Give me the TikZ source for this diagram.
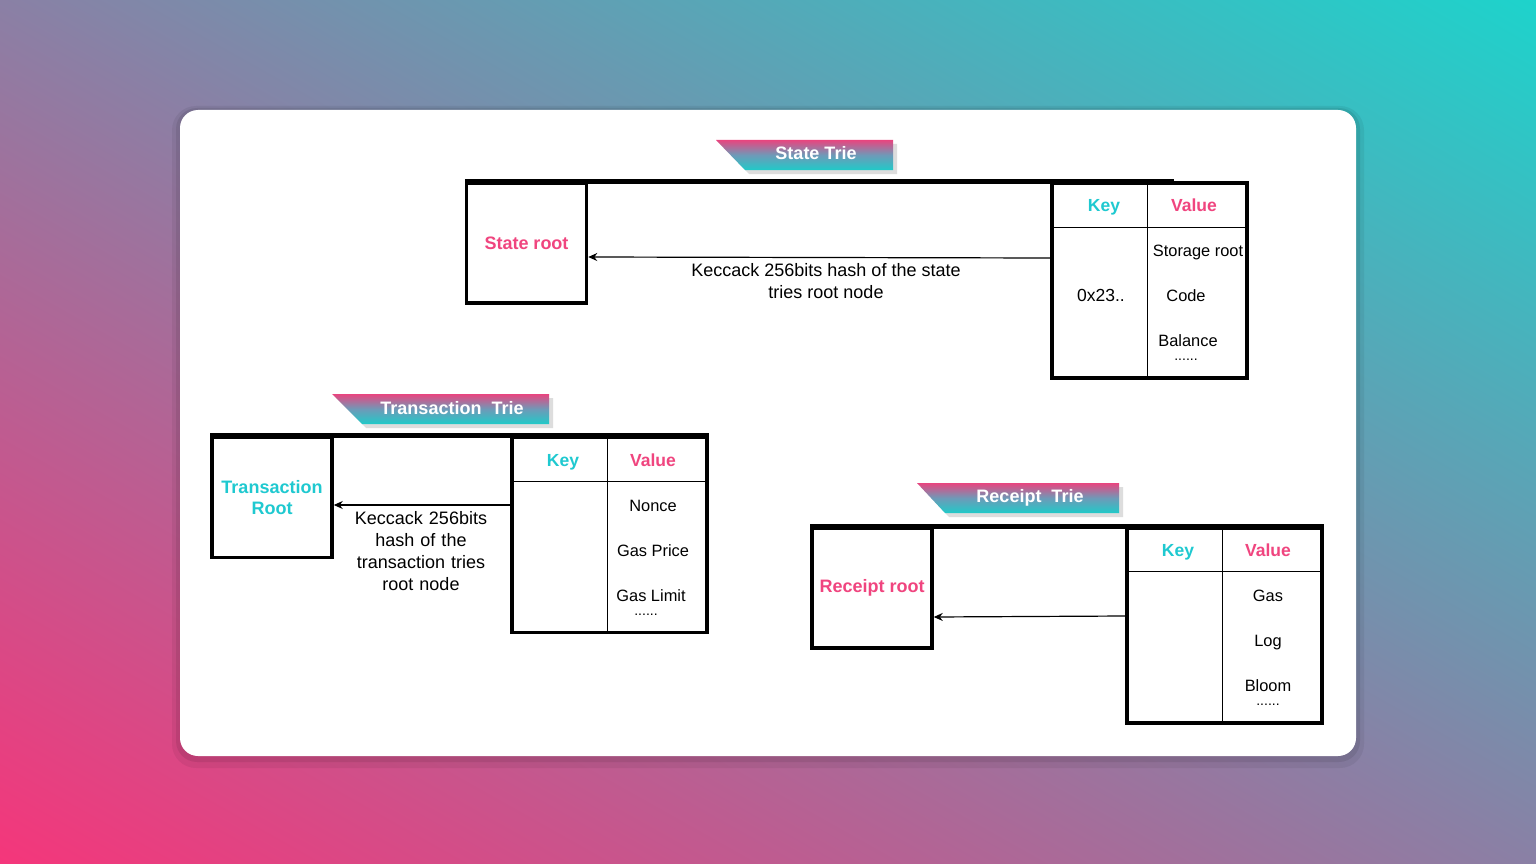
\documentclass[tikz,border=0pt]{standalone}
\usepackage{fontspec}
\setmainfont{Liberation Sans}
\usetikzlibrary{arrows.meta}
\definecolor{pk}{HTML}{F0457F}
\definecolor{tl}{HTML}{1FC9D0}
\definecolor{bgpink}{HTML}{F6357A}
\definecolor{bgteal}{HTML}{1CD4CC}
\definecolor{bgmid}{HTML}{8A80A5}
\definecolor{bnpk}{HTML}{E8457F}
\definecolor{bntl}{HTML}{20CAC8}
\definecolor{bnmid}{HTML}{6E9AB8}
\begin{document}
\begin{tikzpicture}[x=1pt,y=-1pt,
  rootbox/.style={draw=black,line width=3.5pt,fill=white,minimum width=120pt,minimum height=120pt,inner sep=2pt,font=\fontsize{18}{21.5}\selectfont\bfseries,align=center},
  tabbox/.style={draw=black,line width=3.5pt,minimum width=195pt,minimum height=195pt,inner sep=0pt},
  topbar/.style={line width=5pt,line cap=butt},
  divider/.style={line width=1.3pt},
  arr/.style={line width=1.2pt,-{Stealth[length=9pt,width=8pt]}},
  hdr/.style={font=\fontsize{17.5}{20}\selectfont\bfseries,inner sep=0pt,anchor=base},
  val/.style={font=\fontsize{16.4}{19}\selectfont,inner sep=0pt,anchor=base},
  dots/.style={font=\fontsize{14}{16}\selectfont,inner sep=0pt,anchor=base},
  lbl/.style={font=\fontsize{18}{22}\selectfont,align=center,inner sep=0pt},
  bntext/.style={font=\fontsize{18}{21}\selectfont\bfseries,text=white,inner sep=0pt},
  bnshadow/.style={fill=black!22,opacity=0.6},
  bnfill/.style={top color=bnpk,bottom color=bntl,middle color=bnmid}
]
\useasboundingbox (0,0) rectangle (1536,864);
% background
\begin{scope}
\clip (0,0) rectangle (1536,864);
\begin{scope}[transform canvas={rotate around={-29.36:(768,432)}}]
\shade[bottom color=bgpink,top color=bgteal,middle color=bgmid] (-300,-330) rectangle (1836,1194);
\end{scope}
\end{scope}
% card
\fill[black,opacity=0.06,rounded corners=24pt] (172,106) rectangle (1364,768);
\fill[black,opacity=0.08,rounded corners=21pt] (176,108) rectangle (1360,762);
\fill[white,rounded corners=18pt] (180,110) rectangle (1356,756);

% ===== State Trie =====
\fill[bnshadow] (720,144) -- (897,144) -- (897,174) -- (749,174) -- cycle;
\shade[bnfill] (716,140) -- (893,140) -- (893,170) -- (745,170) -- cycle;
\node[bntext] (stitle) at (816,153) {State Trie};

\node[rootbox,text=pk] (sroot) at (526.5,243) {State root};
\node[tabbox] (stab) at (1149.5,280.5) {};
\draw[topbar] (sroot.north west) -- ([xshift=-75pt]stab.north east);
\draw[divider] ([yshift=-46pt]stab.north west) -- ([yshift=-46pt]stab.north east);
\draw[divider] ([xshift=97pt]stab.north west) -- ([xshift=97pt]stab.south west);
\node[hdr,text=tl] (skey) at (1104,211) {Key};
\node[hdr,text=pk] (sval) at (1194,211) {Value};
\node[val,font=\fontsize{17.5}{20}\selectfont] (skeyv) at (1101,301) {0x23..};
\node[val] (sv1) at (1198,256) {Storage root};
\node[val] (sv2) at (1186,301) {Code};
\node[val] (sv3) at (1188,346) {Balance};
\node[dots] (sv4) at (1186,360) {......};
\draw[arr] ([yshift=22.5pt]stab.west) -- ([yshift=-14pt]sroot.east);
\node[lbl] (slbl) at (826,281) {Keccack 256bits hash of the state\\tries root node};

% ===== Transaction Trie =====
\fill[bnshadow] (336,398) -- (553,398) -- (553,428) -- (366,428) -- cycle;
\shade[bnfill] (332,394) -- (549,394) -- (549,424) -- (362,424) -- cycle;
\node[bntext] (ttitle) at (452,408) {Transaction\ \ Trie};

\node[rootbox,text=tl] (troot) at (272,497.5) {Transaction\\Root};
\node[tabbox] (ttab) at (609.5,535) {};
\draw[topbar] (troot.north west) -- (ttab.north east);
\draw[divider] ([yshift=-46pt]ttab.north west) -- ([yshift=-46pt]ttab.north east);
\draw[divider] ([xshift=97pt]ttab.north west) -- ([xshift=97pt]ttab.south west);
\node[hdr,text=tl] (tkey) at (563,466) {Key};
\node[hdr,text=pk] (tval) at (653,466) {Value};
\node[val] (tv1) at (653,511) {Nonce};
\node[val] (tv2) at (653,556) {Gas Price};
\node[val] (tv3) at (651,601) {Gas Limit};
\node[dots] (tv4) at (646,615) {......};
\draw[arr] ([yshift=30pt]ttab.west) -- ([yshift=-7.5pt]troot.east);
\node[lbl,text width=150pt] (tlbl) at (421,551) {Keccack 256bits\\hash of the\\transaction tries\\root node};

% ===== Receipt Trie =====
\fill[bnshadow] (921,487) -- (1123,487) -- (1123,517) -- (949,517) -- cycle;
\shade[bnfill] (917,483) -- (1119,483) -- (1119,513) -- (945,513) -- cycle;
\node[bntext] (rtitle) at (1030,498) {Receipt\ \ Trie};

\node[rootbox,text=pk] (rroot) at (872,588) {Receipt root};
\node[tabbox] (rtab) at (1224.5,625.5) {};
\draw[topbar] (rroot.north west) -- (rtab.north east);
\draw[divider] ([yshift=-45pt]rtab.north west) -- ([yshift=-45pt]rtab.north east);
\draw[divider] ([xshift=97pt]rtab.north west) -- ([xshift=97pt]rtab.south west);
\node[hdr,text=tl] (rkey) at (1178,556) {Key};
\node[hdr,text=pk] (rval) at (1268,556) {Value};
\node[val] (rv1) at (1268,601) {Gas};
\node[val] (rv2) at (1268,646) {Log};
\node[val] (rv3) at (1268,691) {Bloom};
\node[dots] (rv4) at (1268,705) {......};
\draw[arr] ([yshift=9.5pt]rtab.west) -- ([yshift=-29pt]rroot.east);
\end{tikzpicture}
\end{document}
